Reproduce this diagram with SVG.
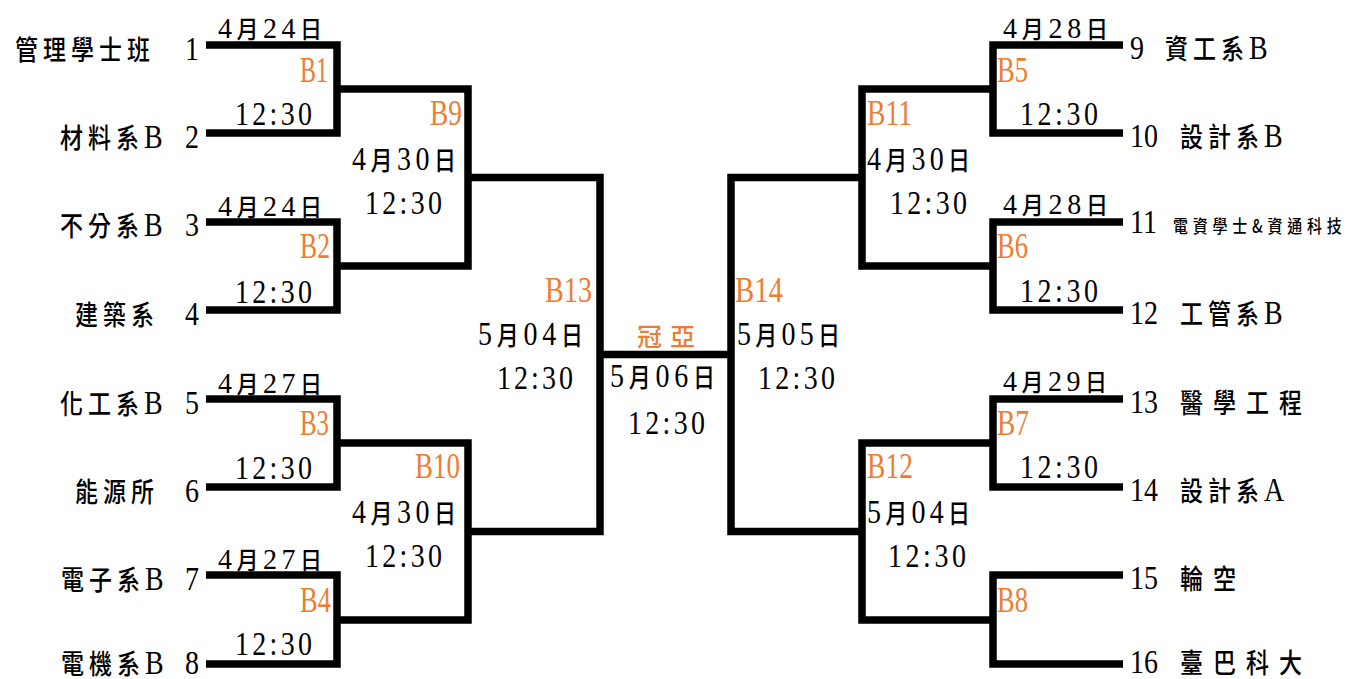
<svg xmlns="http://www.w3.org/2000/svg" width="1356" height="679" viewBox="0 0 1356 679">
<style>
.t{font-family:"Liberation Serif","Noto Sans CJK TC",serif;font-size:28px;fill:#000}
.c{font-family:"Noto Sans CJK TC",sans-serif;font-size:23px;font-weight:500;letter-spacing:5px}
.w{letter-spacing:10px}
.k{font-family:"Noto Sans CJK TC",sans-serif;font-size:22px;font-weight:500}
.sm{font-family:"Noto Sans CJK TC",sans-serif;font-size:15px;font-weight:500;letter-spacing:4.8px}
.o{font-family:"Liberation Serif","Noto Sans CJK TC",serif;font-size:28px;fill:#ED7D31}
.f{font-family:"Noto Sans CJK TC",sans-serif;font-size:25px;font-weight:500;fill:#ED7D31}
.ln{fill:none;stroke:#000;stroke-width:7.5;stroke-linejoin:miter;stroke-linecap:butt}
</style>
<rect width="1356" height="679" fill="#fff"/>
<g id="connectors" class="ln">
<path d="M206,45H337V133H206"/>
<path d="M206,222H337V310H206"/>
<path d="M206,399H337V487H206"/>
<path d="M206,575H337V664H206"/>
<path d="M337,89H468V266H337"/>
<path d="M337,443H468V620H337"/>
<path d="M468,177.5H600V531.5H468"/>
<path d="M600,354.5H731"/>
<path d="M862,177.5H731V531.5H862"/>
<path d="M993,89H862V266H993"/>
<path d="M993,443H862V620H993"/>
<path d="M1123,45H993V133H1123"/>
<path d="M1123,222H993V310H1123"/>
<path d="M1123,399H993V487H1123"/>
<path d="M1123,575H993V664H1123"/>
</g>
<g id="team1"><text class="t" transform="matrix(1 0 0 1.2 0 59.5)"><tspan class="c" x="15">管理學士班</tspan> <tspan x="185">1</tspan></text></g>
<g id="team2"><text class="t" transform="matrix(1 0 0 1.2 0 147.5)"><tspan class="c" x="60">材料系</tspan>B <tspan x="185">2</tspan></text></g>
<g id="team3"><text class="t" transform="matrix(1 0 0 1.2 0 236)"><tspan class="c" x="60">不分系</tspan>B <tspan x="185">3</tspan></text></g>
<g id="team4"><text class="t" transform="matrix(1 0 0 1.2 0 324.5)"><tspan class="c" x="75">建築系</tspan> <tspan x="185">4</tspan></text></g>
<g id="team5"><text class="t" transform="matrix(1 0 0 1.2 0 413.5)"><tspan class="c" x="60">化工系</tspan>B <tspan x="185">5</tspan></text></g>
<g id="team6"><text class="t" transform="matrix(1 0 0 1.2 0 501.5)"><tspan class="c" x="75">能源所</tspan> <tspan x="185">6</tspan></text></g>
<g id="team7"><text class="t" transform="matrix(1 0 0 1.2 0 589.5)"><tspan class="c" x="61">電子系</tspan>B <tspan x="185">7</tspan></text></g>
<g id="team8"><text class="t" transform="matrix(1 0 0 1.2 0 673.5)"><tspan class="c" x="61">電機系</tspan>B <tspan x="185">8</tspan></text></g>
<g id="team9"><text class="t" transform="matrix(1 0 0 1.2 1130 59)">9 <tspan class="c" x="35">資工系</tspan>B</text></g>
<g id="team10"><text class="t" transform="matrix(1 0 0 1.2 1130 147)">10 <tspan class="c" x="50">設計系</tspan>B</text></g>
<g id="team11"><text class="t" transform="matrix(1 0 0 1.2 1130 233)">11 <tspan class="sm" x="43">電資學士&amp;資通科技</tspan></text></g>
<g id="team12"><text class="t" transform="matrix(1 0 0 1.2 1130 324)">12 <tspan class="c" x="50">工管系</tspan>B</text></g>
<g id="team13"><text class="t" transform="matrix(1 0 0 1.2 1130 413)">13 <tspan class="c w" x="50">醫學工程</tspan></text></g>
<g id="team14"><text class="t" transform="matrix(1 0 0 1.2 1130 501)">14 <tspan class="c" x="50">設計系</tspan>A</text></g>
<g id="team15"><text class="t" transform="matrix(1 0 0 1.2 1130 589)">15 <tspan class="c w" x="50">輪空</tspan></text></g>
<g id="team16"><text class="t" transform="matrix(1 0 0 1.2 1130 672.5)">16 <tspan class="c w" x="50">臺巴科大</tspan></text></g>
<g id="B1">
<text class="t" transform="matrix(1 0 0 1.08 218 38)" textLength="104">4<tspan class="k">月</tspan>24<tspan class="k">日</tspan></text>
<text class="o" transform="matrix(1 0 0 1.3 300 81.5)" textLength="28" lengthAdjust="spacingAndGlyphs">B1</text>
<text class="t" transform="matrix(1 0 0 1.2 235 125)" textLength="77">12:30</text>
</g>
<g id="B2">
<text class="t" transform="matrix(1 0 0 1.08 218 216)" textLength="104">4<tspan class="k">月</tspan>24<tspan class="k">日</tspan></text>
<text class="o" transform="matrix(1 0 0 1.3 300 258)" textLength="30" lengthAdjust="spacingAndGlyphs">B2</text>
<text class="t" transform="matrix(1 0 0 1.2 235 303)" textLength="77">12:30</text>
</g>
<g id="B3">
<text class="t" transform="matrix(1 0 0 1.08 218 393)" textLength="104">4<tspan class="k">月</tspan>27<tspan class="k">日</tspan></text>
<text class="o" transform="matrix(1 0 0 1.3 300 435)" textLength="29" lengthAdjust="spacingAndGlyphs">B3</text>
<text class="t" transform="matrix(1 0 0 1.2 235 479)" textLength="77">12:30</text>
</g>
<g id="B4">
<text class="t" transform="matrix(1 0 0 1.08 218 569)" textLength="104">4<tspan class="k">月</tspan>27<tspan class="k">日</tspan></text>
<text class="o" transform="matrix(1 0 0 1.3 300 612)" textLength="31" lengthAdjust="spacingAndGlyphs">B4</text>
<text class="t" transform="matrix(1 0 0 1.2 235 655)" textLength="77">12:30</text>
</g>
<g id="B5">
<text class="t" transform="matrix(1 0 0 1.08 1003 38)" textLength="105">4<tspan class="k">月</tspan>28<tspan class="k">日</tspan></text>
<text class="o" transform="matrix(1 0 0 1.3 997 82)" textLength="31" lengthAdjust="spacingAndGlyphs">B5</text>
<text class="t" transform="matrix(1 0 0 1.2 1020 125)" textLength="78">12:30</text>
</g>
<g id="B6">
<text class="t" transform="matrix(1 0 0 1.08 1003 214)" textLength="105">4<tspan class="k">月</tspan>28<tspan class="k">日</tspan></text>
<text class="o" transform="matrix(1 0 0 1.3 997 258)" textLength="31" lengthAdjust="spacingAndGlyphs">B6</text>
<text class="t" transform="matrix(1 0 0 1.2 1020 302)" textLength="78">12:30</text>
</g>
<g id="B7">
<text class="t" transform="matrix(1 0 0 1.08 1003 391)" textLength="104">4<tspan class="k">月</tspan>29<tspan class="k">日</tspan></text>
<text class="o" transform="matrix(1 0 0 1.3 997 435)" textLength="32" lengthAdjust="spacingAndGlyphs">B7</text>
<text class="t" transform="matrix(1 0 0 1.2 1020 478)" textLength="78">12:30</text>
</g>
<g id="B8">
<text class="o" transform="matrix(1 0 0 1.3 997 612)" textLength="31" lengthAdjust="spacingAndGlyphs">B8</text>
</g>
<g id="B9">
<text class="o" transform="matrix(1 0 0 1.3 430 125)" textLength="32" lengthAdjust="spacingAndGlyphs">B9</text>
<text class="t" transform="matrix(1 0 0 1.2 352 170)" textLength="104">4<tspan class="k">月</tspan>30<tspan class="k">日</tspan></text>
<text class="t" transform="matrix(1 0 0 1.2 365 214)" textLength="77">12:30</text>
</g>
<g id="B10">
<text class="o" transform="matrix(1 0 0 1.3 415 478)" textLength="45" lengthAdjust="spacingAndGlyphs">B10</text>
<text class="t" transform="matrix(1 0 0 1.2 352 523)" textLength="104">4<tspan class="k">月</tspan>30<tspan class="k">日</tspan></text>
<text class="t" transform="matrix(1 0 0 1.2 365 567)" textLength="77">12:30</text>
</g>
<g id="B11">
<text class="o" transform="matrix(1 0 0 1.3 867 125)" textLength="45" lengthAdjust="spacingAndGlyphs">B11</text>
<text class="t" transform="matrix(1 0 0 1.2 867 170)" textLength="103">4<tspan class="k">月</tspan>30<tspan class="k">日</tspan></text>
<text class="t" transform="matrix(1 0 0 1.2 890 214)" textLength="77">12:30</text>
</g>
<g id="B12">
<text class="o" transform="matrix(1 0 0 1.3 867 478)" textLength="46" lengthAdjust="spacingAndGlyphs">B12</text>
<text class="t" transform="matrix(1 0 0 1.2 867 523)" textLength="103">5<tspan class="k">月</tspan>04<tspan class="k">日</tspan></text>
<text class="t" transform="matrix(1 0 0 1.2 888 567)" textLength="78">12:30</text>
</g>
<g id="B13">
<text class="o" transform="matrix(1 0 0 1.3 545 302)" textLength="47" lengthAdjust="spacingAndGlyphs">B13</text>
<text class="t" transform="matrix(1 0 0 1.2 478 345)" textLength="105">5<tspan class="k">月</tspan>04<tspan class="k">日</tspan></text>
<text class="t" transform="matrix(1 0 0 1.2 497 389)" textLength="76">12:30</text>
</g>
<g id="B14">
<text class="o" transform="matrix(1 0 0 1.3 735 302)" textLength="48" lengthAdjust="spacingAndGlyphs">B14</text>
<text class="t" transform="matrix(1 0 0 1.2 737 345)" textLength="103">5<tspan class="k">月</tspan>05<tspan class="k">日</tspan></text>
<text class="t" transform="matrix(1 0 0 1.2 758 389)" textLength="77">12:30</text>
</g>
<g id="final">
<text class="f" x="637" y="346" textLength="58">冠亞</text>
<text class="t" transform="matrix(1 0 0 1.2 610 387)" textLength="105">5<tspan class="k">月</tspan>06<tspan class="k">日</tspan></text>
<text class="t" transform="matrix(1 0 0 1.2 628 434)" textLength="77">12:30</text>
</g>
</svg>
